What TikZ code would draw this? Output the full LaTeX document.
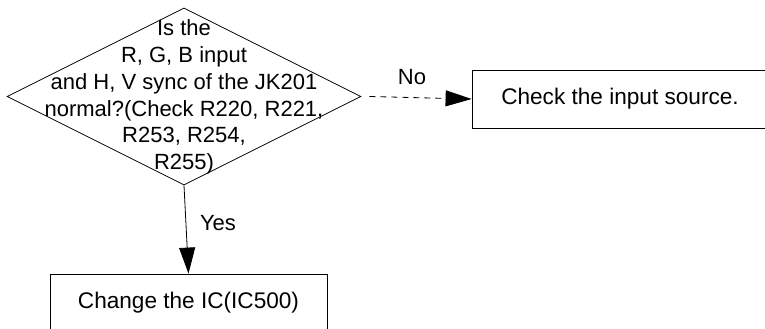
\documentclass[tikz,border=0pt]{standalone}
\usepackage{fontspec}
\setmainfont{Liberation Sans}
\usetikzlibrary{shapes.geometric,arrows.meta}
\begin{document}
\begin{tikzpicture}[x=1pt,y=1pt,
  every node/.style={font=\fontsize{22}{26.7}\selectfont},
  decision/.style={draw,diamond,line width=0.8pt,minimum width=354pt,minimum height=177pt,inner sep=0pt},
  procbox/.style={draw,rectangle,line width=0.8pt,inner sep=0pt},
  flow/.style={line width=0.8pt,-{Triangle[length=26pt,width=16pt]}},
  lbl/.style={inner sep=0pt}]
\useasboundingbox (0,0) rectangle (765,-329);
\clip (0,0) rectangle (765,-329);
\node[decision] (d) at (184,-96.5) {};
\node[lbl,align=center] (dt) at (184,-97) {Is the\\R, G, B input\\and H, V sync of the JK201\\normal?(Check R220, R221,\\R253, R254,\\R255)};
\node[procbox,minimum width=296pt,minimum height=58pt,font=\fontsize{22.6}{26.7}\selectfont] (r) at (620,-99) {Check the input source.};
\node[procbox,minimum width=277pt,minimum height=58pt,font=\fontsize{22.6}{26.7}\selectfont] (b) at (188.5,-303) {Change the IC(IC500)};
\draw[flow,dashed,dash pattern=on 6pt off 5pt] (d.east) ++(8,0) coordinate (ds) -- (r.west);
\draw[flow] (d.south) -- (b.north);
\node[lbl] at (412,-77) {No};
\node[lbl] at (218,-223) {Yes};
\end{tikzpicture}
\end{document}
